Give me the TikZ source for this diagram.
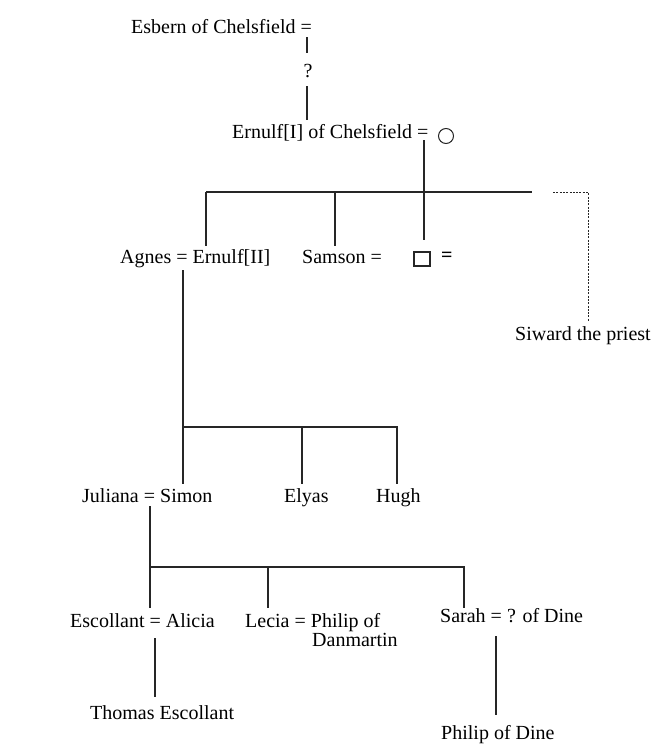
\documentclass[tikz,border=0pt]{standalone}
\usepackage{fontspec}
\setmainfont{Liberation Serif}
\begin{document}
\begin{tikzpicture}[x=1pt,y=-1pt,
  person/.style={anchor=base west,inner sep=0pt,font=\fontsize{20}{20}\selectfont,text=black},
  line/.style={line width=1.2pt,black!85},
  thinline/.style={line width=1pt,black!85},
  dline/.style={line width=1pt,black!85,dash pattern=on 2pt off 1.3pt}]
\useasboundingbox (0,0) rectangle (662,747);
% generation 1
\node[person] (esbern) at (131,33) {Esbern of Chelsfield =};
\coordinate (e1) at (307,37);
\coordinate (q1) at (307,53);
\node[person,anchor=base] (q) at (308,77) {?};
\coordinate (q2) at (307,86);
\coordinate (q3) at (307,120);
\node[person] (ernulf) at (232,138) {Ernulf[I] of Chelsfield =};
\node[draw,thinline,circle,minimum size=15pt,inner sep=0pt] (wife1) at (446,136) {};
\draw[line] (e1) -- (q1);
\draw[line] (q2) -- (q3);
% generation 2
\coordinate (m1) at (424,140);
\coordinate (barL) at (206,192);
\coordinate (barR) at (532,192);
\coordinate (dashA) at (553,192);
\coordinate (dashB) at (588,192);
\node[person] (agnes) at (120,263) {Agnes = Ernulf[II]};
\node[person] (samson) at (302,263) {Samson =};
\node[draw,line width=1.3pt,black!85,minimum width=16pt,minimum height=14pt,inner sep=0pt] (sq) at (422,259) {};
\node[person,font=\fontsize{20}{20}\selectfont\bfseries] (eqs) at (441,261) {=};
\node[person] (siward) at (515,340) {Siward the priest};
\draw[line] (m1) -- (424,240);
\draw[line] (barL) -- (barR);
\draw[line] (barL) -- (206,246);
\draw[line] (335,192) -- (335,246);
\draw[dline] (dashA) -- (dashB) -- ([yshift=4pt]siward.north -| dashB);
% generation 3
\coordinate (a1) at (183,270);
\coordinate (b2L) at (183,427);
\coordinate (b2R) at (397,427);
\node[person] (juliana) at (82,502) {Juliana = Simon};
\node[person] (elyas) at (284,502) {Elyas};
\node[person] (hugh) at (376,502) {Hugh};
\draw[line] (a1) -- (183,484);
\draw[line] (b2L) -- (b2R) -- (397,484);
\draw[line] (302,427) -- (302,484);
% generation 4
\coordinate (j1) at (150,506);
\coordinate (b3L) at (150,567);
\coordinate (b3R) at (464,567);
\node[person] (escollant) at (70,627) {Escollant = Alicia};
\node[person] (lecia) at (245,627) {Lecia = Philip of};
\node[person] (danmartin) at (312,646) {Danmartin};
\node[person] (sarah) at (440,622) {Sarah = ? of Dine};
\draw[line] (j1) -- (150,608);
\draw[line] (b3L) -- (b3R) -- (464,608);
\draw[line] (268,567) -- (268,608);
% generation 5
\node[person] (thomas) at (90,719) {Thomas Escollant};
\node[person] (philip) at (441,739) {Philip of Dine};
\draw[line] (155,638) -- (155,697);
\draw[line] (496,636) -- (496,715);
\end{tikzpicture}
\end{document}
